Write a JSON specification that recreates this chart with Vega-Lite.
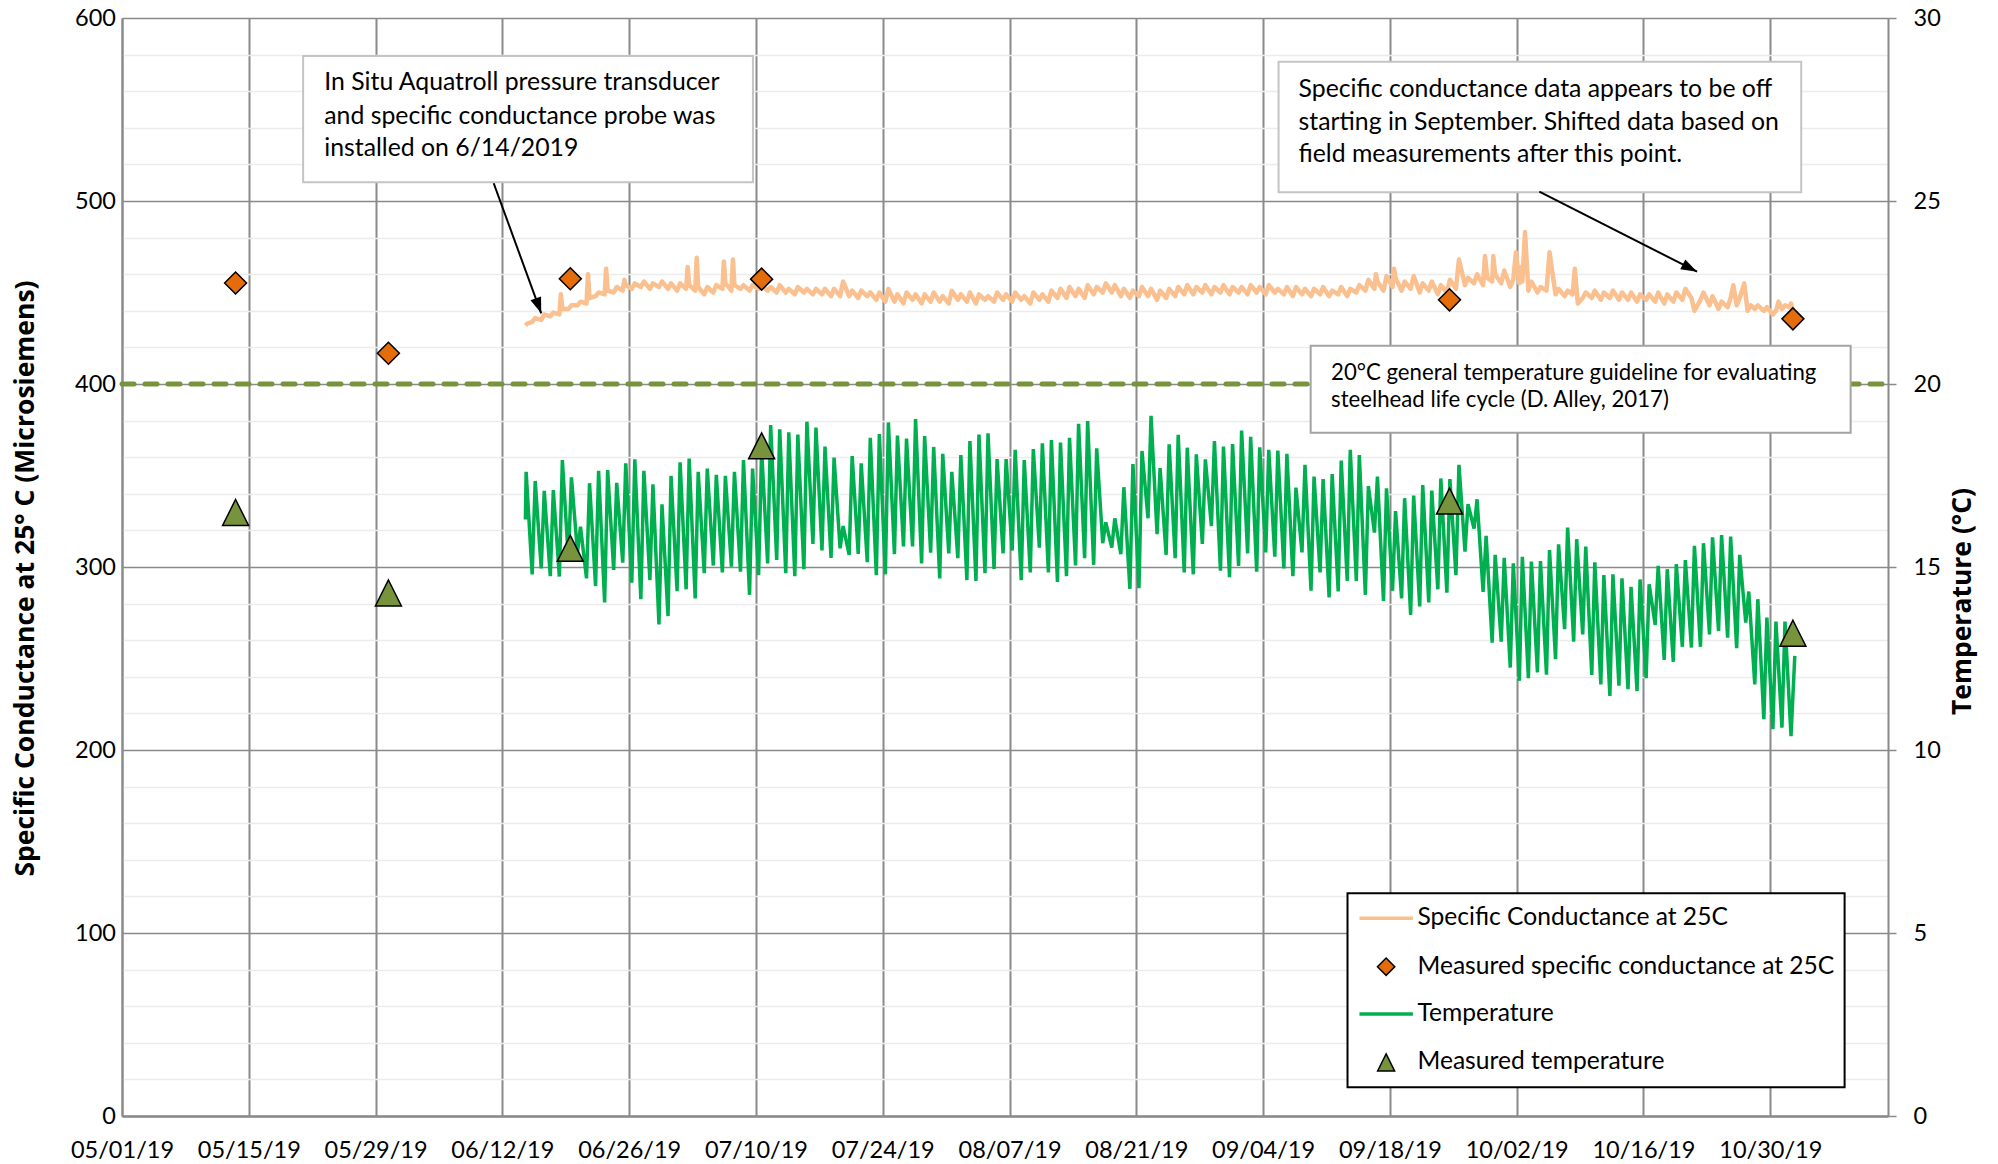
{
  "$schema": "https://vega.github.io/schema/vega-lite/v6.json",
  "width": 1766,
  "height": 1098,
  "autosize": {"type": "none"},
  "padding": {"left": 122, "top": 18, "right": 110, "bottom": 48},
  "background": "white",
  "config": {
    "view": {"stroke": null},
    "font": "Lato",
    "axis": {"labelFont": "Lato", "titleFont": "Open Sans", "labelColor": "#000000", "titleColor": "#000000"}
  },
  "datasets": {
    "temp": [
      {"t":"2019-06-14T13:00","T":16.3},{"t":"2019-06-14T15:00","T":17.6},
      {"t":"2019-06-15T07:00","T":14.8},{"t":"2019-06-15T15:00","T":17.35},
      {"t":"2019-06-16T07:00","T":14.96},{"t":"2019-06-16T15:00","T":17.08},
      {"t":"2019-06-17T07:00","T":14.75},{"t":"2019-06-17T15:00","T":17.1},
      {"t":"2019-06-18T07:00","T":14.74},{"t":"2019-06-18T15:00","T":17.92},
      {"t":"2019-06-19T07:00","T":15.2},{"t":"2019-06-19T15:00","T":17.45},
      {"t":"2019-06-20T07:00","T":15.4},{"t":"2019-06-20T15:00","T":16.1},
      {"t":"2019-06-21T07:00","T":14.69},{"t":"2019-06-21T15:00","T":17.29},
      {"t":"2019-06-22T07:00","T":14.48},{"t":"2019-06-22T15:00","T":17.63},
      {"t":"2019-06-23T07:00","T":14.03},{"t":"2019-06-23T15:00","T":17.65},
      {"t":"2019-06-24T07:00","T":14.92},{"t":"2019-06-24T15:00","T":17.3},
      {"t":"2019-06-25T07:00","T":15.12},{"t":"2019-06-25T15:00","T":17.83},
      {"t":"2019-06-26T07:00","T":14.57},{"t":"2019-06-26T15:00","T":17.94},
      {"t":"2019-06-27T07:00","T":14.12},{"t":"2019-06-27T15:00","T":17.63},
      {"t":"2019-06-28T07:00","T":14.64},{"t":"2019-06-28T15:00","T":17.26},
      {"t":"2019-06-29T07:00","T":13.43},{"t":"2019-06-29T15:00","T":16.71},
      {"t":"2019-06-30T07:00","T":13.66},{"t":"2019-06-30T15:00","T":17.49},
      {"t":"2019-07-01T07:00","T":14.34},{"t":"2019-07-01T15:00","T":17.86},
      {"t":"2019-07-02T07:00","T":14.39},{"t":"2019-07-02T15:00","T":17.96},
      {"t":"2019-07-03T07:00","T":14.14},{"t":"2019-07-03T15:00","T":17.6},
      {"t":"2019-07-04T07:00","T":14.83},{"t":"2019-07-04T15:00","T":17.69},
      {"t":"2019-07-05T07:00","T":15.04},{"t":"2019-07-05T15:00","T":17.52},
      {"t":"2019-07-06T07:00","T":14.85},{"t":"2019-07-06T15:00","T":17.49},
      {"t":"2019-07-07T07:00","T":15.01},{"t":"2019-07-07T15:00","T":17.6},
      {"t":"2019-07-08T07:00","T":14.87},{"t":"2019-07-08T15:00","T":17.92},
      {"t":"2019-07-09T07:00","T":14.24},{"t":"2019-07-09T15:00","T":17.69},
      {"t":"2019-07-10T07:00","T":14.78},{"t":"2019-07-10T15:00","T":18.2},
      {"t":"2019-07-11T07:00","T":15.1},{"t":"2019-07-11T15:00","T":18.88},
      {"t":"2019-07-12T07:00","T":15.19},{"t":"2019-07-12T15:00","T":18.76},
      {"t":"2019-07-13T07:00","T":14.83},{"t":"2019-07-13T15:00","T":18.68},
      {"t":"2019-07-14T07:00","T":14.75},{"t":"2019-07-14T15:00","T":18.62},
      {"t":"2019-07-15T07:00","T":14.94},{"t":"2019-07-15T15:00","T":18.97},
      {"t":"2019-07-16T07:00","T":15.63},{"t":"2019-07-16T15:00","T":18.81},
      {"t":"2019-07-17T07:00","T":15.45},{"t":"2019-07-17T15:00","T":18.29},
      {"t":"2019-07-18T07:00","T":15.25},{"t":"2019-07-18T15:00","T":17.99},
      {"t":"2019-07-19T07:00","T":15.51},{"t":"2019-07-19T15:00","T":16.12},
      {"t":"2019-07-20T07:00","T":15.33},{"t":"2019-07-20T15:00","T":18.03},
      {"t":"2019-07-21T07:00","T":15.36},{"t":"2019-07-21T15:00","T":17.83},
      {"t":"2019-07-22T07:00","T":15.13},{"t":"2019-07-22T15:00","T":18.53},
      {"t":"2019-07-23T07:00","T":14.78},{"t":"2019-07-23T15:00","T":18.63},
      {"t":"2019-07-24T07:00","T":14.8},{"t":"2019-07-24T15:00","T":18.95},
      {"t":"2019-07-25T07:00","T":15.35},{"t":"2019-07-25T15:00","T":18.59},
      {"t":"2019-07-26T07:00","T":15.56},{"t":"2019-07-26T15:00","T":18.51},
      {"t":"2019-07-27T07:00","T":15.56},{"t":"2019-07-27T15:00","T":19.04},
      {"t":"2019-07-28T07:00","T":15.1},{"t":"2019-07-28T15:00","T":18.58},
      {"t":"2019-07-29T07:00","T":15.39},{"t":"2019-07-29T15:00","T":18.28},
      {"t":"2019-07-30T07:00","T":14.69},{"t":"2019-07-30T15:00","T":18.09},
      {"t":"2019-07-31T07:00","T":15.37},{"t":"2019-07-31T15:00","T":17.6},
      {"t":"2019-08-01T07:00","T":15.24},{"t":"2019-08-01T15:00","T":18.06},
      {"t":"2019-08-02T07:00","T":14.64},{"t":"2019-08-02T15:00","T":18.44},
      {"t":"2019-08-03T07:00","T":14.62},{"t":"2019-08-03T15:00","T":18.62},
      {"t":"2019-08-04T07:00","T":14.83},{"t":"2019-08-04T15:00","T":18.65},
      {"t":"2019-08-05T07:00","T":14.95},{"t":"2019-08-05T15:00","T":17.95},
      {"t":"2019-08-06T07:00","T":15.37},{"t":"2019-08-06T15:00","T":17.95},
      {"t":"2019-08-07T07:00","T":15.45},{"t":"2019-08-07T15:00","T":18.2},
      {"t":"2019-08-08T07:00","T":14.64},{"t":"2019-08-08T15:00","T":17.92},
      {"t":"2019-08-09T07:00","T":14.85},{"t":"2019-08-09T15:00","T":18.22},
      {"t":"2019-08-10T07:00","T":15.53},{"t":"2019-08-10T15:00","T":18.38},
      {"t":"2019-08-11T07:00","T":14.85},{"t":"2019-08-11T15:00","T":18.47},
      {"t":"2019-08-12T07:00","T":14.59},{"t":"2019-08-12T15:00","T":18.4},
      {"t":"2019-08-13T07:00","T":14.75},{"t":"2019-08-13T15:00","T":18.53},
      {"t":"2019-08-14T07:00","T":15.04},{"t":"2019-08-14T15:00","T":18.91},
      {"t":"2019-08-15T07:00","T":15.24},{"t":"2019-08-15T15:00","T":18.99},
      {"t":"2019-08-16T07:00","T":15.06},{"t":"2019-08-16T15:00","T":18.24},
      {"t":"2019-08-17T07:00","T":15.65},{"t":"2019-08-17T15:00","T":16.22},
      {"t":"2019-08-18T07:00","T":15.53},{"t":"2019-08-18T15:00","T":16.33},
      {"t":"2019-08-19T07:00","T":15.35},{"t":"2019-08-19T15:00","T":17.18},
      {"t":"2019-08-20T07:00","T":14.4},{"t":"2019-08-20T15:00","T":17.81},
      {"t":"2019-08-21T07:00","T":14.42},{"t":"2019-08-21T15:00","T":18.17},
      {"t":"2019-08-22T07:00","T":16.33},{"t":"2019-08-22T15:00","T":19.13},
      {"t":"2019-08-23T07:00","T":15.9},{"t":"2019-08-23T15:00","T":17.7},
      {"t":"2019-08-24T07:00","T":15.33},{"t":"2019-08-24T15:00","T":18.35},
      {"t":"2019-08-25T07:00","T":15.24},{"t":"2019-08-25T15:00","T":18.61},
      {"t":"2019-08-26T07:00","T":14.85},{"t":"2019-08-26T15:00","T":18.26},
      {"t":"2019-08-27T07:00","T":14.8},{"t":"2019-08-27T15:00","T":18.08},
      {"t":"2019-08-28T07:00","T":15.63},{"t":"2019-08-28T15:00","T":17.94},
      {"t":"2019-08-29T07:00","T":16.12},{"t":"2019-08-29T15:00","T":18.44},
      {"t":"2019-08-30T07:00","T":14.9},{"t":"2019-08-30T15:00","T":18.29},
      {"t":"2019-08-31T07:00","T":14.72},{"t":"2019-08-31T15:00","T":18.36},
      {"t":"2019-09-01T07:00","T":15.03},{"t":"2019-09-01T15:00","T":18.73},
      {"t":"2019-09-02T07:00","T":15.37},{"t":"2019-09-02T15:00","T":18.56},
      {"t":"2019-09-03T07:00","T":14.87},{"t":"2019-09-03T15:00","T":18.27},
      {"t":"2019-09-04T07:00","T":15.4},{"t":"2019-09-04T15:00","T":18.2},
      {"t":"2019-09-05T07:00","T":15.28},{"t":"2019-09-05T15:00","T":18.18},
      {"t":"2019-09-06T07:00","T":14.96},{"t":"2019-09-06T15:00","T":18.09},
      {"t":"2019-09-07T07:00","T":14.75},{"t":"2019-09-07T15:00","T":17.17},
      {"t":"2019-09-08T07:00","T":15.4},{"t":"2019-09-08T15:00","T":17.79},
      {"t":"2019-09-09T07:00","T":14.35},{"t":"2019-09-09T15:00","T":17.47},
      {"t":"2019-09-10T07:00","T":14.85},{"t":"2019-09-10T15:00","T":17.4},
      {"t":"2019-09-11T07:00","T":14.17},{"t":"2019-09-11T15:00","T":17.54},
      {"t":"2019-09-12T07:00","T":14.33},{"t":"2019-09-12T15:00","T":17.91},
      {"t":"2019-09-13T07:00","T":14.62},{"t":"2019-09-13T15:00","T":18.2},
      {"t":"2019-09-14T07:00","T":14.62},{"t":"2019-09-14T15:00","T":18.06},
      {"t":"2019-09-15T07:00","T":14.24},{"t":"2019-09-15T15:00","T":17.21},
      {"t":"2019-09-16T07:00","T":15.94},{"t":"2019-09-16T15:00","T":17.47},
      {"t":"2019-09-17T07:00","T":14.07},{"t":"2019-09-17T15:00","T":17.15},
      {"t":"2019-09-18T07:00","T":14.35},{"t":"2019-09-18T15:00","T":16.53},
      {"t":"2019-09-19T07:00","T":14.14},{"t":"2019-09-19T15:00","T":16.88},
      {"t":"2019-09-20T07:00","T":13.69},{"t":"2019-09-20T15:00","T":16.95},
      {"t":"2019-09-21T07:00","T":13.92},{"t":"2019-09-21T15:00","T":17.24},
      {"t":"2019-09-22T07:00","T":14.03},{"t":"2019-09-22T15:00","T":17.09},
      {"t":"2019-09-23T07:00","T":14.39},{"t":"2019-09-23T15:00","T":17.42},
      {"t":"2019-09-24T07:00","T":14.3},{"t":"2019-09-24T15:00","T":17.4},
      {"t":"2019-09-25T07:00","T":14.78},{"t":"2019-09-25T15:00","T":17.79},
      {"t":"2019-09-26T07:00","T":15.42},{"t":"2019-09-26T15:00","T":16.72},
      {"t":"2019-09-27T07:00","T":16.05},{"t":"2019-09-27T15:00","T":16.85},
      {"t":"2019-09-28T07:00","T":14.32},{"t":"2019-09-28T15:00","T":15.85},
      {"t":"2019-09-29T07:00","T":12.93},{"t":"2019-09-29T15:00","T":15.33},
      {"t":"2019-09-30T07:00","T":12.96},{"t":"2019-09-30T15:00","T":15.25},
      {"t":"2019-10-01T07:00","T":12.25},{"t":"2019-10-01T15:00","T":15.1},
      {"t":"2019-10-02T07:00","T":11.89},{"t":"2019-10-02T15:00","T":15.28},
      {"t":"2019-10-03T07:00","T":11.96},{"t":"2019-10-03T15:00","T":15.15},
      {"t":"2019-10-04T07:00","T":12.12},{"t":"2019-10-04T15:00","T":15.16},
      {"t":"2019-10-05T07:00","T":12.06},{"t":"2019-10-05T15:00","T":15.46},
      {"t":"2019-10-06T07:00","T":12.48},{"t":"2019-10-06T15:00","T":15.62},
      {"t":"2019-10-07T07:00","T":13.3},{"t":"2019-10-07T15:00","T":16.08},
      {"t":"2019-10-08T07:00","T":12.96},{"t":"2019-10-08T15:00","T":15.76},
      {"t":"2019-10-09T07:00","T":13.16},{"t":"2019-10-09T15:00","T":15.56},
      {"t":"2019-10-10T07:00","T":12.05},{"t":"2019-10-10T15:00","T":15.13},
      {"t":"2019-10-11T07:00","T":11.79},{"t":"2019-10-11T15:00","T":14.78},
      {"t":"2019-10-12T07:00","T":11.48},{"t":"2019-10-12T15:00","T":14.8},
      {"t":"2019-10-13T07:00","T":11.76},{"t":"2019-10-13T15:00","T":14.69},
      {"t":"2019-10-14T07:00","T":11.66},{"t":"2019-10-14T15:00","T":14.46},
      {"t":"2019-10-15T07:00","T":11.61},{"t":"2019-10-15T15:00","T":14.66},
      {"t":"2019-10-16T07:00","T":11.96},{"t":"2019-10-16T15:00","T":14.53},
      {"t":"2019-10-17T07:00","T":13.42},{"t":"2019-10-17T15:00","T":15.03},
      {"t":"2019-10-18T07:00","T":12.46},{"t":"2019-10-18T15:00","T":14.94},
      {"t":"2019-10-19T07:00","T":12.41},{"t":"2019-10-19T15:00","T":15.08},
      {"t":"2019-10-20T07:00","T":12.82},{"t":"2019-10-20T15:00","T":15.19},
      {"t":"2019-10-21T07:00","T":12.8},{"t":"2019-10-21T15:00","T":15.58},
      {"t":"2019-10-22T07:00","T":12.82},{"t":"2019-10-22T15:00","T":15.65},
      {"t":"2019-10-23T07:00","T":13.16},{"t":"2019-10-23T15:00","T":15.81},
      {"t":"2019-10-24T07:00","T":13.25},{"t":"2019-10-24T15:00","T":15.87},
      {"t":"2019-10-25T07:00","T":13.07},{"t":"2019-10-25T15:00","T":15.83},
      {"t":"2019-10-26T07:00","T":12.78},{"t":"2019-10-26T15:00","T":15.33},
      {"t":"2019-10-27T07:00","T":13.48},{"t":"2019-10-27T15:00","T":14.33},
      {"t":"2019-10-28T07:00","T":11.79},{"t":"2019-10-28T15:00","T":14.12},
      {"t":"2019-10-29T07:00","T":10.84},{"t":"2019-10-29T15:00","T":13.62},
      {"t":"2019-10-30T07:00","T":10.57},{"t":"2019-10-30T15:00","T":13.51},
      {"t":"2019-10-31T07:00","T":10.61},{"t":"2019-10-31T15:00","T":13.51},
      {"t":"2019-11-01T07:00","T":10.38},{"t":"2019-11-01T17:00","T":12.57}
    ],
    "cond": [
      {"t":"2019-06-14T13:00","C":432},{"t":"2019-06-14T18:00","C":433},
      {"t":"2019-06-15T07:00","C":434},{"t":"2019-06-15T15:00","C":436},
      {"t":"2019-06-16T07:00","C":435},{"t":"2019-06-16T15:00","C":438},
      {"t":"2019-06-17T07:00","C":437},{"t":"2019-06-17T15:00","C":439},
      {"t":"2019-06-18T07:00","C":438},{"t":"2019-06-18T11:00","C":449},{"t":"2019-06-18T15:00","C":441},
      {"t":"2019-06-19T07:00","C":441},{"t":"2019-06-19T15:00","C":443},
      {"t":"2019-06-20T07:00","C":443},{"t":"2019-06-20T15:00","C":445},
      {"t":"2019-06-21T07:00","C":444},{"t":"2019-06-21T11:00","C":460},{"t":"2019-06-21T15:00","C":447},
      {"t":"2019-06-22T07:00","C":448},{"t":"2019-06-22T15:00","C":450},
      {"t":"2019-06-23T07:00","C":449},{"t":"2019-06-23T11:00","C":463},{"t":"2019-06-23T15:00","C":451},
      {"t":"2019-06-24T07:00","C":450},{"t":"2019-06-24T15:00","C":453},
      {"t":"2019-06-25T07:00","C":451},{"t":"2019-06-25T11:00","C":457},{"t":"2019-06-25T15:00","C":454},
      {"t":"2019-06-26T07:00","C":452},{"t":"2019-06-26T15:00","C":455},
      {"t":"2019-06-27T07:00","C":453},{"t":"2019-06-27T15:00","C":456},
      {"t":"2019-06-28T07:00","C":452},{"t":"2019-06-28T15:00","C":455},
      {"t":"2019-06-29T07:00","C":453},{"t":"2019-06-29T15:00","C":456},
      {"t":"2019-06-30T07:00","C":452},{"t":"2019-06-30T15:00","C":455},
      {"t":"2019-07-01T07:00","C":451},{"t":"2019-07-01T15:00","C":455},
      {"t":"2019-07-02T07:00","C":452},{"t":"2019-07-02T11:00","C":464},{"t":"2019-07-02T15:00","C":454},
      {"t":"2019-07-03T07:00","C":451},{"t":"2019-07-03T11:00","C":469},{"t":"2019-07-03T15:00","C":453},
      {"t":"2019-07-04T07:00","C":449},{"t":"2019-07-04T15:00","C":453},
      {"t":"2019-07-05T07:00","C":450},{"t":"2019-07-05T15:00","C":454},
      {"t":"2019-07-06T07:00","C":452},{"t":"2019-07-06T11:00","C":467},{"t":"2019-07-06T15:00","C":455},
      {"t":"2019-07-07T07:00","C":451},{"t":"2019-07-07T11:00","C":468},{"t":"2019-07-07T15:00","C":454},
      {"t":"2019-07-08T07:00","C":452},{"t":"2019-07-08T15:00","C":454},
      {"t":"2019-07-09T07:00","C":451},{"t":"2019-07-09T15:00","C":454},
      {"t":"2019-07-10T07:00","C":452},{"t":"2019-07-10T15:00","C":454},
      {"t":"2019-07-11T07:00","C":451},{"t":"2019-07-11T15:00","C":453},
      {"t":"2019-07-12T07:00","C":450},{"t":"2019-07-12T15:00","C":454},
      {"t":"2019-07-13T07:00","C":450},{"t":"2019-07-13T15:00","C":452},
      {"t":"2019-07-14T07:00","C":449},{"t":"2019-07-14T15:00","C":453},
      {"t":"2019-07-15T07:00","C":450},{"t":"2019-07-15T15:00","C":452},
      {"t":"2019-07-16T07:00","C":449},{"t":"2019-07-16T15:00","C":452},
      {"t":"2019-07-17T07:00","C":449},{"t":"2019-07-17T15:00","C":452},
      {"t":"2019-07-18T07:00","C":448},{"t":"2019-07-18T15:00","C":452},
      {"t":"2019-07-19T07:00","C":448},{"t":"2019-07-19T15:00","C":456},
      {"t":"2019-07-20T07:00","C":448},{"t":"2019-07-20T15:00","C":451},
      {"t":"2019-07-21T07:00","C":447},{"t":"2019-07-21T15:00","C":451},
      {"t":"2019-07-22T07:00","C":448},{"t":"2019-07-22T15:00","C":450},
      {"t":"2019-07-23T07:00","C":446},{"t":"2019-07-23T15:00","C":450},
      {"t":"2019-07-24T07:00","C":445},{"t":"2019-07-24T15:00","C":452},
      {"t":"2019-07-25T07:00","C":445},{"t":"2019-07-25T15:00","C":449},
      {"t":"2019-07-26T07:00","C":444},{"t":"2019-07-26T15:00","C":450},
      {"t":"2019-07-27T07:00","C":446},{"t":"2019-07-27T15:00","C":449},
      {"t":"2019-07-28T07:00","C":444},{"t":"2019-07-28T15:00","C":449},
      {"t":"2019-07-29T07:00","C":445},{"t":"2019-07-29T15:00","C":450},
      {"t":"2019-07-30T07:00","C":445},{"t":"2019-07-30T15:00","C":448},
      {"t":"2019-07-31T07:00","C":444},{"t":"2019-07-31T15:00","C":451},
      {"t":"2019-08-01T07:00","C":446},{"t":"2019-08-01T15:00","C":449},
      {"t":"2019-08-02T07:00","C":445},{"t":"2019-08-02T15:00","C":450},
      {"t":"2019-08-03T07:00","C":444},{"t":"2019-08-03T15:00","C":449},
      {"t":"2019-08-04T07:00","C":446},{"t":"2019-08-04T15:00","C":448},
      {"t":"2019-08-05T07:00","C":445},{"t":"2019-08-05T15:00","C":450},
      {"t":"2019-08-06T07:00","C":446},{"t":"2019-08-06T15:00","C":449},
      {"t":"2019-08-07T07:00","C":445},{"t":"2019-08-07T15:00","C":450},
      {"t":"2019-08-08T07:00","C":446},{"t":"2019-08-08T15:00","C":448},
      {"t":"2019-08-09T07:00","C":444},{"t":"2019-08-09T15:00","C":450},
      {"t":"2019-08-10T07:00","C":446},{"t":"2019-08-10T15:00","C":449},
      {"t":"2019-08-11T07:00","C":445},{"t":"2019-08-11T15:00","C":451},
      {"t":"2019-08-12T07:00","C":447},{"t":"2019-08-12T15:00","C":452},
      {"t":"2019-08-13T07:00","C":447},{"t":"2019-08-13T15:00","C":453},
      {"t":"2019-08-14T07:00","C":448},{"t":"2019-08-14T15:00","C":452},
      {"t":"2019-08-15T07:00","C":447},{"t":"2019-08-15T15:00","C":454},
      {"t":"2019-08-16T07:00","C":449},{"t":"2019-08-16T15:00","C":453},
      {"t":"2019-08-17T07:00","C":450},{"t":"2019-08-17T15:00","C":455},
      {"t":"2019-08-18T07:00","C":450},{"t":"2019-08-18T15:00","C":454},
      {"t":"2019-08-19T07:00","C":448},{"t":"2019-08-19T15:00","C":452},
      {"t":"2019-08-20T07:00","C":447},{"t":"2019-08-20T15:00","C":451},
      {"t":"2019-08-21T07:00","C":448},{"t":"2019-08-21T15:00","C":453},
      {"t":"2019-08-22T07:00","C":448},{"t":"2019-08-22T15:00","C":452},
      {"t":"2019-08-23T07:00","C":446},{"t":"2019-08-23T15:00","C":451},
      {"t":"2019-08-24T07:00","C":447},{"t":"2019-08-24T15:00","C":452},
      {"t":"2019-08-25T07:00","C":448},{"t":"2019-08-25T15:00","C":453},
      {"t":"2019-08-26T07:00","C":449},{"t":"2019-08-26T15:00","C":454},
      {"t":"2019-08-27T07:00","C":449},{"t":"2019-08-27T15:00","C":453},
      {"t":"2019-08-28T07:00","C":450},{"t":"2019-08-28T15:00","C":454},
      {"t":"2019-08-29T07:00","C":449},{"t":"2019-08-29T15:00","C":453},
      {"t":"2019-08-30T07:00","C":450},{"t":"2019-08-30T15:00","C":454},
      {"t":"2019-08-31T07:00","C":449},{"t":"2019-08-31T15:00","C":453},
      {"t":"2019-09-01T07:00","C":450},{"t":"2019-09-01T15:00","C":453},
      {"t":"2019-09-02T07:00","C":449},{"t":"2019-09-02T15:00","C":454},
      {"t":"2019-09-03T07:00","C":450},{"t":"2019-09-03T15:00","C":453},
      {"t":"2019-09-04T07:00","C":449},{"t":"2019-09-04T15:00","C":454},
      {"t":"2019-09-05T07:00","C":450},{"t":"2019-09-05T15:00","C":452},
      {"t":"2019-09-06T07:00","C":449},{"t":"2019-09-06T15:00","C":453},
      {"t":"2019-09-07T07:00","C":448},{"t":"2019-09-07T15:00","C":453},
      {"t":"2019-09-08T07:00","C":449},{"t":"2019-09-08T15:00","C":452},
      {"t":"2019-09-09T07:00","C":448},{"t":"2019-09-09T15:00","C":452},
      {"t":"2019-09-10T07:00","C":449},{"t":"2019-09-10T15:00","C":453},
      {"t":"2019-09-11T07:00","C":448},{"t":"2019-09-11T15:00","C":451},
      {"t":"2019-09-12T07:00","C":449},{"t":"2019-09-12T15:00","C":453},
      {"t":"2019-09-13T07:00","C":448},{"t":"2019-09-13T15:00","C":452},
      {"t":"2019-09-14T07:00","C":450},{"t":"2019-09-14T15:00","C":454},
      {"t":"2019-09-15T07:00","C":451},{"t":"2019-09-15T15:00","C":457},
      {"t":"2019-09-16T07:00","C":452},{"t":"2019-09-16T11:00","C":460},{"t":"2019-09-16T15:00","C":456},
      {"t":"2019-09-17T07:00","C":451},{"t":"2019-09-17T15:00","C":459},
      {"t":"2019-09-18T07:00","C":453},{"t":"2019-09-18T11:00","C":463},{"t":"2019-09-18T15:00","C":458},
      {"t":"2019-09-19T07:00","C":451},{"t":"2019-09-19T15:00","C":456},
      {"t":"2019-09-20T07:00","C":452},{"t":"2019-09-20T15:00","C":459},
      {"t":"2019-09-21T07:00","C":450},{"t":"2019-09-21T15:00","C":455},
      {"t":"2019-09-22T07:00","C":451},{"t":"2019-09-22T15:00","C":456},
      {"t":"2019-09-23T07:00","C":449},{"t":"2019-09-23T15:00","C":454},
      {"t":"2019-09-24T07:00","C":450},{"t":"2019-09-24T15:00","C":457},
      {"t":"2019-09-25T07:00","C":452},{"t":"2019-09-25T15:00","C":468},
      {"t":"2019-09-26T07:00","C":454},{"t":"2019-09-26T15:00","C":458},
      {"t":"2019-09-27T07:00","C":455},{"t":"2019-09-27T15:00","C":460},
      {"t":"2019-09-28T07:00","C":454},{"t":"2019-09-28T12:00","C":470},{"t":"2019-09-28T18:00","C":458},
      {"t":"2019-09-29T07:00","C":456},{"t":"2019-09-29T10:00","C":470},{"t":"2019-09-29T15:00","C":460},
      {"t":"2019-09-30T07:00","C":455},{"t":"2019-09-30T15:00","C":462},
      {"t":"2019-10-01T07:00","C":453},{"t":"2019-10-01T15:00","C":457},{"t":"2019-10-01T22:00","C":472},
      {"t":"2019-10-02T07:00","C":455},{"t":"2019-10-02T10:00","C":464},{"t":"2019-10-02T15:00","C":456},{"t":"2019-10-02T22:00","C":483},
      {"t":"2019-10-03T07:00","C":451},{"t":"2019-10-03T15:00","C":456},
      {"t":"2019-10-04T07:00","C":450},{"t":"2019-10-04T15:00","C":453},
      {"t":"2019-10-05T07:00","C":451},{"t":"2019-10-05T15:00","C":472},
      {"t":"2019-10-06T07:00","C":449},{"t":"2019-10-06T15:00","C":452},
      {"t":"2019-10-07T07:00","C":448},{"t":"2019-10-07T15:00","C":451},
      {"t":"2019-10-08T04:00","C":449},{"t":"2019-10-08T10:00","C":463},{"t":"2019-10-08T18:00","C":444},
      {"t":"2019-10-09T07:00","C":447},{"t":"2019-10-09T15:00","C":450},
      {"t":"2019-10-10T07:00","C":447},{"t":"2019-10-10T15:00","C":451},
      {"t":"2019-10-11T07:00","C":446},{"t":"2019-10-11T15:00","C":450},
      {"t":"2019-10-12T07:00","C":447},{"t":"2019-10-12T15:00","C":451},
      {"t":"2019-10-13T07:00","C":446},{"t":"2019-10-13T15:00","C":450},
      {"t":"2019-10-14T07:00","C":446},{"t":"2019-10-14T15:00","C":450},
      {"t":"2019-10-15T07:00","C":445},{"t":"2019-10-15T15:00","C":449},
      {"t":"2019-10-16T07:00","C":446},{"t":"2019-10-16T15:00","C":449},
      {"t":"2019-10-17T07:00","C":445},{"t":"2019-10-17T15:00","C":450},
      {"t":"2019-10-18T07:00","C":444},{"t":"2019-10-18T15:00","C":449},
      {"t":"2019-10-19T07:00","C":445},{"t":"2019-10-19T15:00","C":450},
      {"t":"2019-10-20T07:00","C":446},{"t":"2019-10-20T15:00","C":452},
      {"t":"2019-10-21T07:00","C":447},{"t":"2019-10-21T15:00","C":440},
      {"t":"2019-10-22T07:00","C":446},{"t":"2019-10-22T15:00","C":450},
      {"t":"2019-10-23T07:00","C":443},{"t":"2019-10-23T15:00","C":448},
      {"t":"2019-10-24T07:00","C":441},{"t":"2019-10-24T15:00","C":445},
      {"t":"2019-10-25T07:00","C":442},{"t":"2019-10-25T15:00","C":447},{"t":"2019-10-25T22:00","C":454},
      {"t":"2019-10-26T07:00","C":443},{"t":"2019-10-26T15:00","C":447},
      {"t":"2019-10-27T03:00","C":455},{"t":"2019-10-27T12:00","C":440},{"t":"2019-10-27T20:00","C":443},
      {"t":"2019-10-28T07:00","C":441},{"t":"2019-10-28T15:00","C":443},
      {"t":"2019-10-29T07:00","C":440},{"t":"2019-10-29T15:00","C":442},
      {"t":"2019-10-30T07:00","C":438},{"t":"2019-10-30T15:00","C":440},{"t":"2019-10-30T22:00","C":445},
      {"t":"2019-10-31T07:00","C":441},{"t":"2019-10-31T15:00","C":443},
      {"t":"2019-11-01T03:00","C":442},{"t":"2019-11-01T07:00","C":444},{"t":"2019-11-01T12:00","C":440}
    ],
    "meas": [
      {"t":"2019-05-13T13:00","C":455.2,"T":16.49},
      {"t":"2019-05-30T10:00","C":416.8,"T":14.29},
      {"t":"2019-06-19T12:00","C":457.5,"T":15.51},
      {"t":"2019-07-10T15:00","C":457.3,"T":18.31},
      {"t":"2019-09-24T14:00","C":446.0,"T":16.8},
      {"t":"2019-11-01T12:00","C":435.6,"T":13.19}
    ],
    "guideline": [{"t":"2019-05-01T00:00","t2":"2019-11-12T00:00","T":20}],
    "noteBoxes": [
      {"t":"2019-05-21T00:00","t2":"2019-07-09T16:00","C":579.2,"C2":510.2},
      {"t":"2019-09-05T17:00","t2":"2019-11-02T10:00","C":576.1,"C2":504.8}
    ],
    "guideBox": [{"t":"2019-09-09T06:00","t2":"2019-11-07T21:00","C":420.9,"C2":373.4}],
    "noteText": [
      {"t":"2019-05-23T08:00","C":564.3,"txt":"In Situ Aquatroll pressure transducer"},
      {"t":"2019-05-23T08:00","C":546.0,"txt":"and specific conductance probe was"},
      {"t":"2019-05-23T08:00","C":528.4,"txt":"installed on 6/14/2019"},
      {"t":"2019-09-07T22:00","C":560.7,"txt":"Specific conductance data appears to be off"},
      {"t":"2019-09-07T22:00","C":542.8,"txt":"starting in September. Shifted data based on"},
      {"t":"2019-09-07T22:00","C":525.0,"txt":"field measurements after this point."}
    ],
    "guideText": [
      {"t":"2019-09-11T12:00","C":406.2,"txt":"20°C general temperature guideline for evaluating"},
      {"t":"2019-09-11T12:00","C":391.3,"txt":"steelhead life cycle (D. Alley, 2017)"}
    ],
    "arrows": [
      {"t":"2019-06-11T01:00","C":509.7,"t2":"2019-06-16T07:00","C2":438.6},
      {"t":"2019-10-04T12:00","C":505.1,"t2":"2019-10-21T22:00","C2":461.4}
    ],
    "headA": [{"t":"2019-06-16T07:00","C":438.6}],
    "headB": [{"t":"2019-10-21T22:00","C":461.4}],
    "keyBox": [{"t":"2019-09-13T07:40","t2":"2019-11-07T05:00","C":121.7,"C2":15.7}],
    "keyCond": [{"t":"2019-09-14T15:20","t2":"2019-09-20T13:00","C":108.0}],
    "keyTemp": [{"t":"2019-09-14T15:20","t2":"2019-09-20T13:00","C":55.7}],
    "keyDiamond": [{"t":"2019-09-17T14:00","C":81.6}],
    "keyTriangle": [{"t":"2019-09-17T14:00","C":29.3}],
    "keyText": [
      {"t":"2019-09-21T01:00","C":108.0,"txt":"Specific Conductance at 25C"},
      {"t":"2019-09-21T01:00","C":81.6,"txt":"Measured specific conductance at 25C"},
      {"t":"2019-09-21T01:00","C":55.7,"txt":"Temperature"},
      {"t":"2019-09-21T01:00","C":29.3,"txt":"Measured temperature"}
    ]
  },
  "encoding": {
    "x": {
      "field": "t",
      "type": "temporal",
      "scale": {"domain": [{"year": 2019, "month": 5, "date": 1}, {"year": 2019, "month": 11, "date": 12}], "nice": false},
      "axis": {
        "title": null,
        "values": [
          {"year": 2019, "month": 5, "date": 1}, {"year": 2019, "month": 5, "date": 15},
          {"year": 2019, "month": 5, "date": 29}, {"year": 2019, "month": 6, "date": 12},
          {"year": 2019, "month": 6, "date": 26}, {"year": 2019, "month": 7, "date": 10},
          {"year": 2019, "month": 7, "date": 24}, {"year": 2019, "month": 8, "date": 7},
          {"year": 2019, "month": 8, "date": 21}, {"year": 2019, "month": 9, "date": 4},
          {"year": 2019, "month": 9, "date": 18}, {"year": 2019, "month": 10, "date": 2},
          {"year": 2019, "month": 10, "date": 16}, {"year": 2019, "month": 10, "date": 30}
        ],
        "format": "%m/%d/%y",
        "labelFontSize": 23.5,
        "labelPadding": 22,
        "labelFlush": false,
        "labelOverlap": false,
        "ticks": false,
        "grid": true,
        "gridColor": "#8a8a8a",
        "gridWidth": 2,
        "domainColor": "#8a8a8a",
        "domainWidth": 2.5
      }
    }
  },
  "resolve": {"scale": {"y": "independent"}},
  "layer": [
    {
      "encoding": {
        "y": {
          "field": "C",
          "type": "quantitative",
          "scale": {"domain": [0, 600], "nice": false, "zero": false},
          "axis": {
            "orient": "left",
            "title": "Specific Conductance at 25° C (Microsiemens)",
            "titleFontSize": 26.5,
            "titleFontWeight": "bold",
            "titlePadding": 35,
            "titleY": 560,
            "values": [0,20,40,60,80,100,120,140,160,180,200,220,240,260,280,300,320,340,360,380,400,420,440,460,480,500,520,540,560,580,600],
            "labelExpr": "datum.value % 100 === 0 ? datum.label : ''",
            "labelFontSize": 23.5,
            "labelPadding": 6.5,
            "ticks": false,
            "grid": true,
            "gridColor": {"condition": {"test": "datum.value % 100 === 0", "value": "#8a8a8a"}, "value": "#ececec"},
            "gridWidth": 1.6,
            "domainColor": "#8a8a8a",
            "domainWidth": 2
          }
        }
      },
      "layer": [
        {"data": {"name": "cond"}, "mark": {"type": "line", "stroke": "#FAC090", "strokeWidth": 4.5, "strokeJoin": "round"}},
        {"data": {"name": "meas"}, "mark": {"type": "point", "shape": "diamond", "filled": true, "fill": "#E46C0A", "stroke": "#000000", "strokeWidth": 1.5, "size": 484, "opacity": 1}}
      ]
    },
    {
      "encoding": {
        "y": {
          "field": "T",
          "type": "quantitative",
          "scale": {"domain": [0, 30], "nice": false, "zero": false},
          "axis": {
            "orient": "right",
            "title": "Temperature (°C)",
            "titleFontSize": 26.5,
            "titleFontWeight": "bold",
            "titleAngle": 270,
            "titleBaseline": "top",
            "titlePadding": 9,
            "titleY": 583,
            "values": [0, 5, 10, 15, 20, 25, 30],
            "labelFontSize": 23.5,
            "labelPadding": 17,
            "ticks": true,
            "tickSize": 8,
            "tickColor": "#8a8a8a",
            "tickWidth": 1.5,
            "grid": false,
            "domainColor": "#8a8a8a",
            "domainWidth": 2
          }
        }
      },
      "layer": [
        {"data": {"name": "temp"}, "mark": {"type": "line", "stroke": "#00B050", "strokeWidth": 3.5}},
        {"data": {"name": "meas"}, "mark": {"type": "point", "shape": "M0,-1L1,1L-1,1Z", "filled": true, "fill": "#77933C", "stroke": "#000000", "strokeWidth": 1.5, "size": 676, "opacity": 1}},
        {"data": {"name": "guideline"}, "mark": {"type": "rule", "stroke": "#77933C", "strokeWidth": 5, "strokeDash": [12, 11], "strokeCap": "round"}, "encoding": {"x2": {"field": "t2"}}}
      ]
    },
    {
      "encoding": {
        "y": {"field": "C", "type": "quantitative", "scale": {"domain": [0, 600], "nice": false, "zero": false}, "axis": null}
      },
      "layer": [
        {"data": {"name": "noteBoxes"}, "mark": {"type": "rect", "fill": "#ffffff", "stroke": "#c4c4c4", "strokeWidth": 2}, "encoding": {"x2": {"field": "t2"}, "y2": {"field": "C2"}}},
        {"data": {"name": "guideBox"}, "mark": {"type": "rect", "fill": "#ffffff", "stroke": "#a3a3a3", "strokeWidth": 2}, "encoding": {"x2": {"field": "t2"}, "y2": {"field": "C2"}}},
        {"data": {"name": "noteText"}, "mark": {"type": "text", "align": "left", "baseline": "middle", "font": "Lato", "fontSize": 24.8, "color": "#000000"}, "encoding": {"text": {"field": "txt"}}},
        {"data": {"name": "guideText"}, "mark": {"type": "text", "align": "left", "baseline": "middle", "font": "Lato", "fontSize": 22.2, "color": "#000000"}, "encoding": {"text": {"field": "txt"}}},
        {"data": {"name": "arrows"}, "mark": {"type": "rule", "stroke": "#000000", "strokeWidth": 2}, "encoding": {"x2": {"field": "t2"}, "y2": {"field": "C2"}}},
        {"data": {"name": "headA"}, "mark": {"type": "point", "shape": "M0,0L-0.7,2L0.7,2Z", "filled": true, "fill": "#000000", "stroke": null, "size": 256, "angle": 160, "opacity": 1}},
        {"data": {"name": "headB"}, "mark": {"type": "point", "shape": "M0,0L-0.7,2L0.7,2Z", "filled": true, "fill": "#000000", "stroke": null, "size": 256, "angle": 117, "opacity": 1}},
        {"data": {"name": "keyBox"}, "mark": {"type": "rect", "fill": "#ffffff", "stroke": "#000000", "strokeWidth": 2}, "encoding": {"x2": {"field": "t2"}, "y2": {"field": "C2"}}},
        {"data": {"name": "keyCond"}, "mark": {"type": "rule", "stroke": "#FAC090", "strokeWidth": 3.5}, "encoding": {"x2": {"field": "t2"}}},
        {"data": {"name": "keyTemp"}, "mark": {"type": "rule", "stroke": "#00B050", "strokeWidth": 3.5}, "encoding": {"x2": {"field": "t2"}}},
        {"data": {"name": "keyDiamond"}, "mark": {"type": "point", "shape": "diamond", "filled": true, "fill": "#E46C0A", "stroke": "#000000", "strokeWidth": 1.5, "size": 300, "opacity": 1}},
        {"data": {"name": "keyTriangle"}, "mark": {"type": "point", "shape": "M0,-1L1,1L-1,1Z", "filled": true, "fill": "#77933C", "stroke": "#000000", "strokeWidth": 1.5, "size": 289, "opacity": 1}},
        {"data": {"name": "keyText"}, "mark": {"type": "text", "align": "left", "baseline": "middle", "font": "Lato", "fontSize": 24.6, "color": "#000000"}, "encoding": {"text": {"field": "txt"}}}
      ]
    }
  ]
}
